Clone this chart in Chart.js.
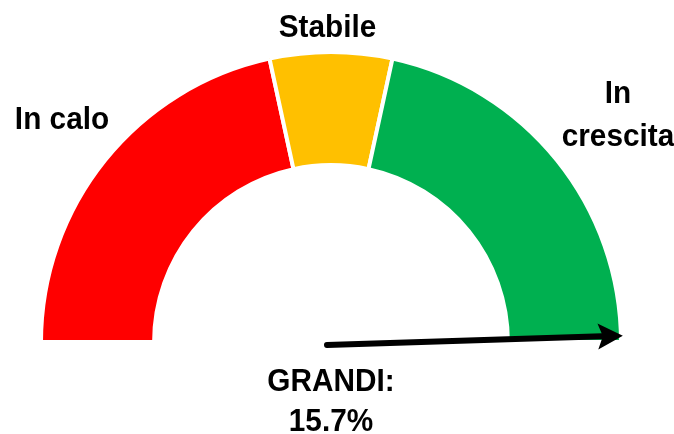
<!DOCTYPE html>
<html><head><meta charset="utf-8">
<script src="https://cdn.jsdelivr.net/npm/chart.js@4"></script>
<style>html,body{margin:0;padding:0;background:#fff;overflow:hidden}canvas{display:block}</style>
</head><body>
<canvas id="c" width="674" height="434"></canvas>
<script>
// ---- data ----
const categories = ['In calo', 'Stabile', 'In crescita'];
const categoryLabelLines = [['In calo'], ['Stabile'], ['In', 'crescita']];
const segmentValues = [43.2, 13.6, 43.2];
const segmentColors = ['#FF0000', '#FFC000', '#00B050'];
const needleValue = 99.0;           // position of the arrow on the 0..100 scale
const captionLines = ['GRANDI:', '15.7%'];

// ---- style (positions relative to gauge centre) ----
const labelOffsets = [[[-269, -213]], [[-3.5, -305]], [[287, -239], [287, -196]]];
const captionOffsets = [[0, 49], [0, 89]];
const FONT = 'bold 32px "Liberation Sans", Arial, sans-serif';
const XSCALE = 0.93;

function drawText(ctx, txt, x, y) {
  ctx.save();
  ctx.translate(x, y);
  ctx.scale(XSCALE, 1);
  ctx.fillText(txt, 0, 0);
  ctx.restore();
}

const gaugePlugin = {
  id: 'gauge',
  afterDatasetsDraw(chart) {
    const arc = chart.getDatasetMeta(0).data[0];
    const cx = arc.x, cy = arc.y;
    const ctx = chart.ctx;
    const total = segmentValues.reduce((a, b) => a + b, 0);
    const ang = Math.PI * (1 - needleValue / total);
    // arrow
    const tx = cx - 4, ty = cy + 3;
    const L = 296, HL = 25, HW = 13;
    const dx = Math.cos(ang), dy = -Math.sin(ang);
    const bx = tx + dx * (L - HL), by = ty + dy * (L - HL);
    const px = -dy, py = dx;
    ctx.save();
    ctx.strokeStyle = '#000';
    ctx.fillStyle = '#000';
    ctx.lineWidth = 6;
    ctx.lineCap = 'round';
    ctx.beginPath();
    ctx.moveTo(tx, ty);
    ctx.lineTo(bx + dx * 4, by + dy * 4);
    ctx.stroke();
    ctx.beginPath();
    ctx.moveTo(tx + dx * L, ty + dy * L);
    ctx.lineTo(bx + px * HW, by + py * HW);
    ctx.lineTo(bx + dx * 5, by + dy * 5);
    ctx.lineTo(bx - px * HW, by - py * HW);
    ctx.closePath();
    ctx.fill();
    // labels
    ctx.font = FONT;
    ctx.textAlign = 'center';
    ctx.textBaseline = 'alphabetic';
    categoryLabelLines.forEach((lines, i) => {
      lines.forEach((t, j) => {
        const o = labelOffsets[i][j];
        drawText(ctx, t, cx + o[0], cy + o[1]);
      });
    });
    captionLines.forEach((t, i) => {
      const o = captionOffsets[i];
      drawText(ctx, t, cx + o[0], cy + o[1]);
    });
    ctx.restore();
  }
};

new Chart(document.getElementById('c'), {
  type: 'doughnut',
  data: {
    labels: categories,
    datasets: [{
      data: segmentValues,
      backgroundColor: segmentColors,
      borderColor: '#FFFFFF',
      borderWidth: 4,
      hoverOffset: 0
    }]
  },
  options: {
    responsive: false,
    animation: false,
    rotation: -90,
    circumference: 180,
    cutout: '61%',
    layout: { padding: { left: 39, right: 51, top: 50, bottom: 90 } },
    plugins: { legend: { display: false }, tooltip: { enabled: false } },
    events: []
  },
  plugins: [gaugePlugin]
});
</script>
</body></html>
